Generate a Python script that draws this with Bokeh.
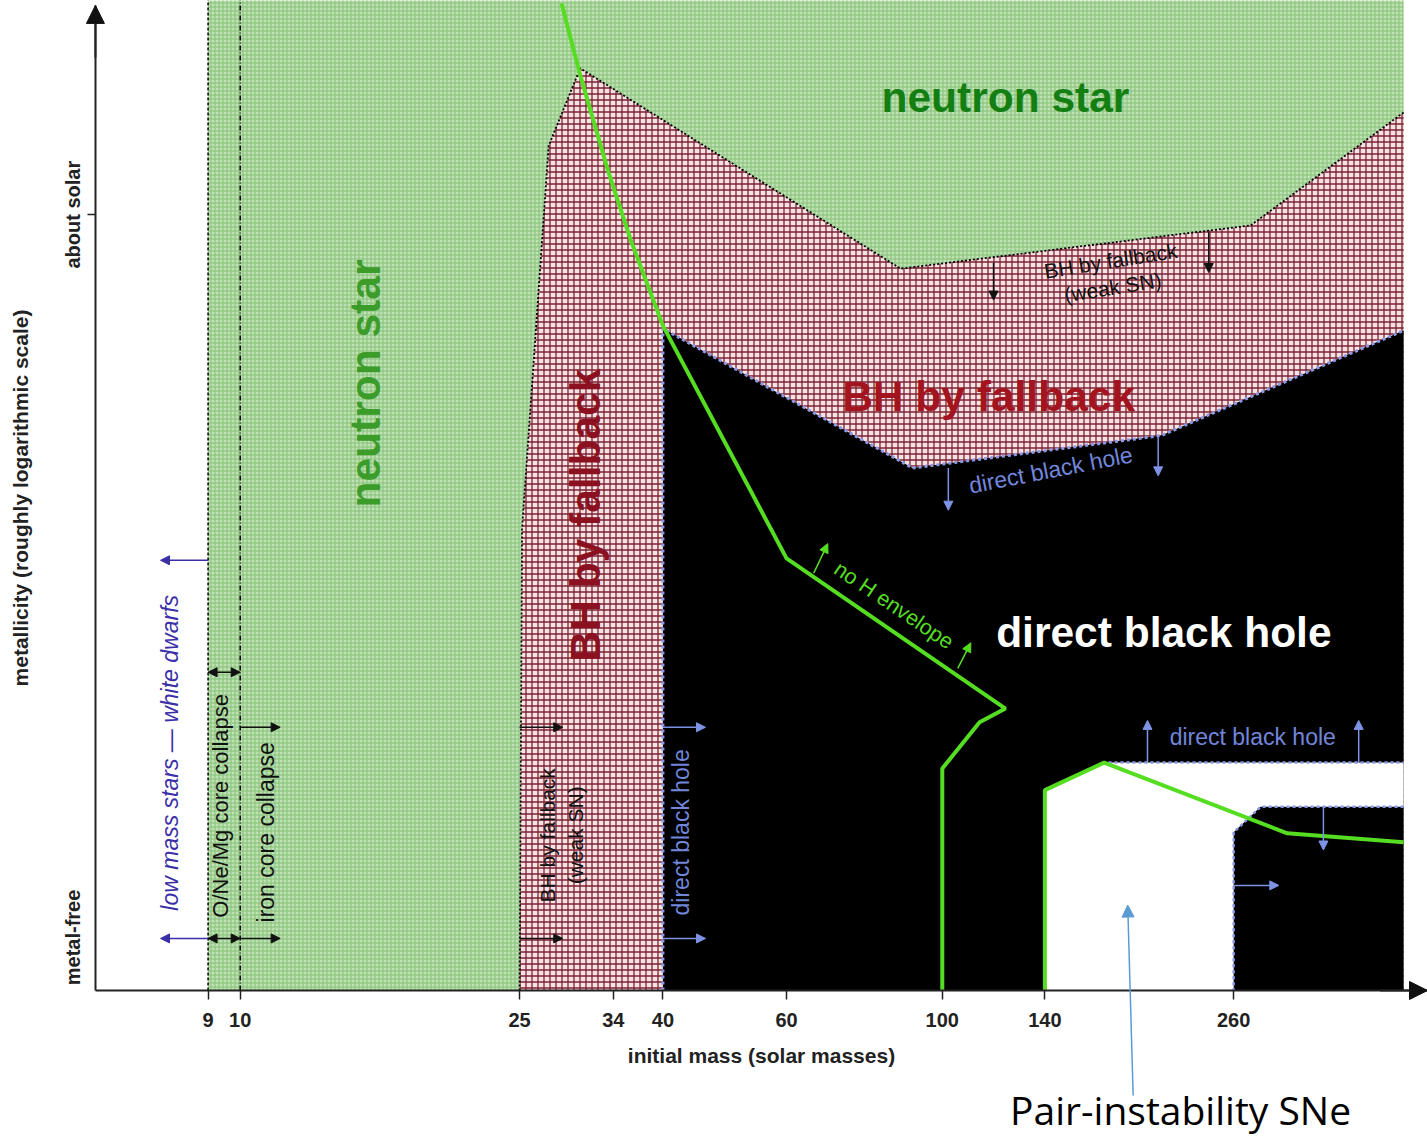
import numpy as np
from bokeh.plotting import figure
from bokeh.models import Range1d, FixedTicker, Arrow, NormalHead, Label, NumeralTickFormatter
from bokeh.core.properties import value
from bokeh.embed import file_html
from bokeh.resources import INLINE

# ---------------- data ----------------
mass_ticks = [9, 10, 25, 34, 40, 60, 100, 140, 260]
metal_ticks = [5.4, 79]
metal_labels = {5.4: "metal-free", 79: "about solar"}

M_ORIGIN = 6.22      # mass at the vertical axis
M_END = 491.0        # end of the mass axis
M_MAX = 454          # right edge of the computed regions
Z_TOP = 100.3        # top of the metallicity axis
# neutron-star region (background from 9 Msun)
ns_x = [9, M_MAX, M_MAX, 9]
ns_y = [0, 0, 101, 101]
# BH by fallback region
fb_x = [25, 25.2, 27.5, 30.5, 87.2, 275, M_MAX, M_MAX]
fb_y = [0, 47.0, 86.0, 93.9, 73.5, 77.9, 89.4, 0]
# direct black hole region
dbh_x = [40, 40, 90.7, 205, M_MAX, M_MAX]
dbh_y = [0, 67.4, 53.2, 56.5, 67.2, 0]
# pair-instability (no remnant) region
pi_x = [140, 140, 170, M_MAX, M_MAX, 284, 260, 260]
pi_y = [0, 20.4, 23.2, 23.2, 18.7, 18.7, 16.1, 0]
# "no H envelope" boundaries
noh1_x = [28.7, 29.1, 30.5, 33.4, 36.0, 40.0, 60.0, 123, 113, 100, 100]
noh1_y = [100.5, 98.8, 93.2, 83.5, 76.4, 67.7, 44.0, 28.7, 27.3, 22.6, 0]
noh2_x = [140, 140, 170, 310, M_MAX]
noh2_y = [0, 20.4, 23.2, 16.0, 15.1]

# arrows: (x0, y0, x1, y1, colour, double)
arrows = [
    (9, 43.8, 7.7, 43.8, "#3b2fa8", False),
    (9, 5.3, 7.7, 5.3, "#3b2fa8", False),
    (9, 32.4, 10, 32.4, "#111111", True),
    (9, 5.3, 10, 5.3, "#111111", True),
    (10, 26.8, 11.4, 26.8, "#111111", False),
    (10, 5.3, 11.4, 5.3, "#111111", False),
    (25, 26.8, 28.8, 26.8, "#111111", False),
    (25, 5.3, 28.8, 5.3, "#111111", False),
    (40, 26.8, 46.0, 26.8, "#7f93e6", False),
    (40, 5.3, 46.0, 5.3, "#7f93e6", False),
    (102, 53.2, 102, 48.9, "#7f93e6", False),
    (203, 56.3, 203, 52.4, "#7f93e6", False),
    (118.3, 74.1, 118.3, 70.3, "#111111", False),
    (239.6, 77.2, 239.6, 73.1, "#111111", False),
    (196, 23.2, 196, 27.5, "#7f93e6", False),
    (391.8, 23.2, 391.8, 27.5, "#7f93e6", False),
    (349, 18.7, 349, 14.3, "#7f93e6", False),
    (260, 10.7, 301.5, 10.7, "#7f93e6", False),
    (65.6, 42.5, 68.7, 45.5, "#55dd22", False),
    (105.2, 32.8, 109.8, 35.4, "#55dd22", False),
]

# texts: (x, y, text, size, colour, angle_deg, style)
texts = [
    (123, 90.9, "neutron star", 42.5, "#137f13", 0, "bold"),
    (15.1, 61.8, "neutron star", 42.5, "#3c9c2a", 90, "bold"),
    (31.0, 48.4, "BH by fallback", 42.5, "#8b1020", 90, "bold"),
    (116.4, 60.5, "BH by fallback", 42.5, "#a3141f", 0, "bold"),
    (206.8, 36.4, "direct black hole", 42.5, "#ffffff", 0, "bold"),
    (142.7, 53.0, "direct black hole", 23, "#7286dc", 11, "normal"),
    (276.8, 25.8, "direct black hole", 23, "#7286dc", 0, "normal"),
    (42.5, 16.1, "direct black hole", 23, "#7286dc", 90, "normal"),
    (85.3, 39.2, "no H envelope", 21.5, "#55dd22", -34, "normal"),
    (173.7, 74.3, "BH by fallback", 21, "#111111", 9, "normal"),
    (174.9, 71.6, "(weak SN)", 21, "#111111", 9, "normal"),
    (7.95, 24.2, "low mass stars — white dwarfs", 23, "#3b2fa8", 90, "italic"),
    (9.38, 18.8, "O/Ne/Mg core collapse", 22, "#111111", 90, "normal"),
    (10.87, 16.1, "iron core collapse", 23, "#111111", 90, "normal"),
    (27.4, 15.8, "BH by fallback", 21, "#111111", 90, "normal"),
    (30.0, 15.8, "(weak SN)", 21, "#111111", 90, "normal"),
]

# ---------------- figure ----------------
p = figure(width=1427, height=1142, x_axis_type="log",
           x_range=Range1d(4.556, M_END), y_range=Range1d(-15.48, 100.8),
           output_backend="svg", toolbar_location=None,
           min_border_left=0, min_border_right=0, min_border_top=0, min_border_bottom=0)
p.grid.visible = False
p.outline_line_color = None
p.background_fill_color = "white"
p.border_fill_color = "white"

p.patch(ns_x, ns_y, fill_color="#bfe2b4", line_color=None,
        hatch_pattern="+", hatch_color="#86bf78", hatch_scale=4, hatch_weight=1)
p.patch(fb_x, fb_y, fill_color="#f6e2e2", line_color=None,
        hatch_pattern="+", hatch_color="#7d2233", hatch_scale=6, hatch_weight=1.3)
p.patch(dbh_x, dbh_y, fill_color="black", line_color=None)
p.patch(pi_x, pi_y, fill_color="white", line_color=None)

p.line([9, 9], [0, 101], line_color="black", line_width=1.5, line_dash="3 2")
p.line([10, 10], [0, 101], line_color="black", line_width=1.5, line_dash="5 2 1 2")

p.line(fb_x[:-1], fb_y[:-1], line_color="black", line_width=1.8, line_dash="2 2")
p.line(dbh_x[:-1], dbh_y[:-1], line_color="#8a9ae8", line_width=3, line_dash="3 3")
p.line(pi_x[:4], pi_y[:4], line_color="#8a9ae8", line_width=2.5, line_dash="3 3")
p.line(pi_x[4:], pi_y[4:], line_color="#8a9ae8", line_width=2.5, line_dash="3 3")

p.line(noh1_x, noh1_y, line_color="#55dd22", line_width=4)
p.line(noh2_x, noh2_y, line_color="#55dd22", line_width=4)

for (x, y, t, s, c, a, st) in texts:
    p.text([x], [y], text=[t], text_font=value("Liberation Sans"), text_font_size=f"{s}px",
           text_font_style=st, text_color=c, angle=np.radians(a),
           text_align="center", text_baseline="middle")

for (x0, y0, x1, y1, c, dbl) in arrows:
    head = NormalHead(size=9, fill_color=c, line_color=c)
    kw = dict(start=NormalHead(size=9, fill_color=c, line_color=c)) if dbl else dict(start=None)
    p.add_layout(Arrow(x_start=x0, y_start=y0, x_end=x1, y_end=y1, end=head,
                       line_color=c, line_width=1.5, **kw))

# axis arrowheads and the "about solar" tick mark
p.add_layout(Arrow(x_start=M_ORIGIN, y_start=95, x_end=M_ORIGIN, y_end=Z_TOP,
                   end=NormalHead(size=18, fill_color="#111111", line_color="#111111"),
                   line_color="#222222", line_width=2))
p.add_layout(Arrow(x_start=420, y_start=0, x_end=M_END, y_end=0,
                   end=NormalHead(size=18, fill_color="#111111", line_color="#111111"),
                   line_color="#222222", line_width=2))
p.segment(x0=[6.06], y0=[79], x1=[M_ORIGIN], y1=[79], line_color="#222222", line_width=1.5)

# annotation below the chart
p.add_layout(Arrow(x_start=187, y_start=-10.7, x_end=183.7, y_end=8.7,
                   end=NormalHead(size=12, fill_color="#5b9bd5", line_color="#5b9bd5"),
                   line_color="#5b9bd5", line_width=1.5))
p.add_layout(Label(x=218.5, y=-12.1, text="Pair-instability SNe", text_font="Open Sans",
                   text_font_size="39px", text_color="black",
                   text_align="center", text_baseline="middle"))

# axes drawn at the origin of the diagram
p.xaxis.fixed_location = 0
p.xaxis.bounds = (M_ORIGIN, M_END)
p.yaxis.fixed_location = M_ORIGIN
p.yaxis.bounds = (0, Z_TOP)

p.xaxis.ticker = FixedTicker(ticks=mass_ticks)
p.xaxis.formatter = NumeralTickFormatter(format="0")
p.xaxis.axis_label = "initial mass (solar masses)"
p.yaxis.ticker = FixedTicker(ticks=metal_ticks)
p.yaxis.major_label_overrides = metal_labels
p.yaxis.major_label_orientation = "parallel"
p.yaxis.axis_label = "metallicity (roughly logarithmic scale)"

for ax in (p.xaxis[0], p.yaxis[0]):
    ax.axis_line_color = "#222222"
    ax.axis_line_width = 2
    ax.major_tick_line_color = "#222222"
    ax.major_tick_line_width = 1.5
    ax.major_tick_in = 0
    ax.minor_tick_out = 0
    ax.minor_tick_in = 0
    ax.major_label_text_font = "Liberation Sans"
    ax.major_label_text_font_size = "20px"
    ax.major_label_text_font_style = "bold"
    ax.major_label_text_color = "#222222"
    ax.axis_label_text_font = "Liberation Sans"
    ax.axis_label_text_font_size = "21px"
    ax.axis_label_text_font_style = "bold"
    ax.axis_label_text_color = "#222222"

p.xaxis.major_tick_out = 9
p.yaxis.major_tick_out = 0
p.xaxis.major_label_standoff = 14
p.xaxis.axis_label_standoff = 13
p.yaxis.major_label_standoff = 11
p.yaxis.axis_label_standoff = 28

open("out.html", "w").write(file_html(p, INLINE))
